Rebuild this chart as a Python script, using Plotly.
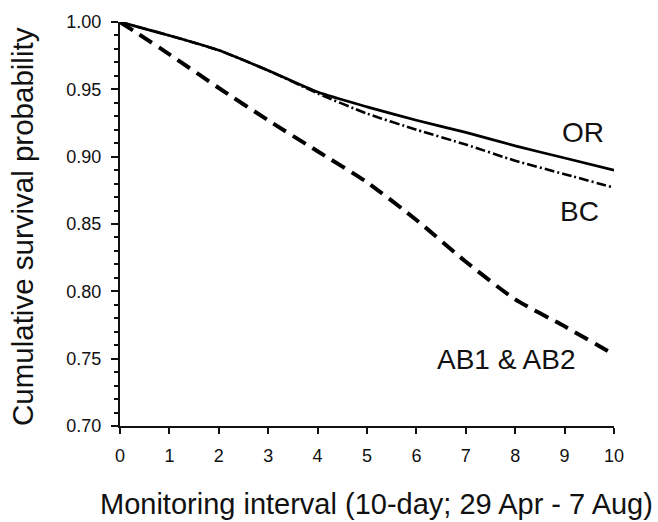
import plotly.graph_objects as go

intervals = [0, 1, 2, 3, 4, 5, 6, 7, 8, 9, 10]
surv_or = [1.000, 0.990, 0.979, 0.964, 0.948, 0.937, 0.927, 0.918, 0.908, 0.899, 0.890]
surv_bc = [1.000, 0.990, 0.979, 0.964, 0.947, 0.932, 0.920, 0.909, 0.897, 0.887, 0.877]
surv_ab = [1.000, 0.976, 0.951, 0.927, 0.904, 0.881, 0.853, 0.822, 0.794, 0.774, 0.753]

y_ticks = [0.70, 0.75, 0.80, 0.85, 0.90, 0.95, 1.00]
x_ticks = intervals

labels = [
    ("OR", 9.37, 0.918),
    ("BC", 9.31, 0.859),
    ("AB1 & AB2", 7.83, 0.7495),
]

FONT = "Liberation Sans, Arial, Helvetica, sans-serif"

fig = go.Figure()
fig.add_trace(go.Scatter(x=intervals, y=surv_or, mode="lines",
                         line=dict(color="black", width=2.7, shape="spline", smoothing=0.6),
                         showlegend=False))
fig.add_trace(go.Scatter(x=intervals, y=surv_bc, mode="lines",
                         line=dict(color="black", width=2.6, dash="10px,3px,2px,3px",
                                   shape="spline", smoothing=0.6),
                         showlegend=False))
fig.add_trace(go.Scatter(x=intervals, y=surv_ab, mode="lines",
                         line=dict(color="black", width=4, dash="15px,8px",
                                   shape="spline", smoothing=0.6),
                         showlegend=False))

for text, x, y in labels:
    fig.add_annotation(x=x, y=y, text=text, showarrow=False,
                       font=dict(family=FONT, size=28, color="#111"),
                       xanchor="center", yanchor="middle")

fig.add_annotation(xref="paper", yref="paper", x=0.520, y=-0.193,
                   text="Monitoring interval (10-day; 29 Apr - 7 Aug)",
                   showarrow=False, xanchor="center", yanchor="middle",
                   font=dict(family=FONT, size=29, color="#111"))
fig.add_annotation(xref="paper", yref="paper", x=-0.196, y=0.493,
                   text="Cumulative survival probability", textangle=-90,
                   showarrow=False, xanchor="center", yanchor="middle",
                   font=dict(family=FONT, size=29.5, color="#111"))

fig.update_layout(
    width=658, height=522,
    margin=dict(l=120, r=44, t=16, b=96),
    paper_bgcolor="white", plot_bgcolor="white",
    font=dict(family=FONT, color="#111"),
)
fig.update_xaxes(range=[0, 10], tickvals=x_ticks, ticks="outside", ticklen=6, tickwidth=1.5,
                 tickcolor="#111", showline=True, linecolor="#111", linewidth=2,
                 showgrid=False, zeroline=False, tickfont=dict(size=18, family=FONT),
                 ticklabelstandoff=6)
fig.update_yaxes(range=[0.70, 1.00], tickvals=y_ticks, tickformat=".2f", ticks="outside",
                 ticklen=7, tickwidth=1.5, tickcolor="#111", showline=True, linecolor="#111",
                 linewidth=2, showgrid=False, zeroline=False,
                 tickfont=dict(size=18, family=FONT), ticklabelstandoff=6,
                 minor=dict(dtick=0.01, ticks="outside", ticklen=4, tickwidth=1.5,
                            tickcolor="#111", showgrid=False))

fig.write_html("out.html", config={"displayModeBar": False},
               post_script="document.body.style.margin='0';")
